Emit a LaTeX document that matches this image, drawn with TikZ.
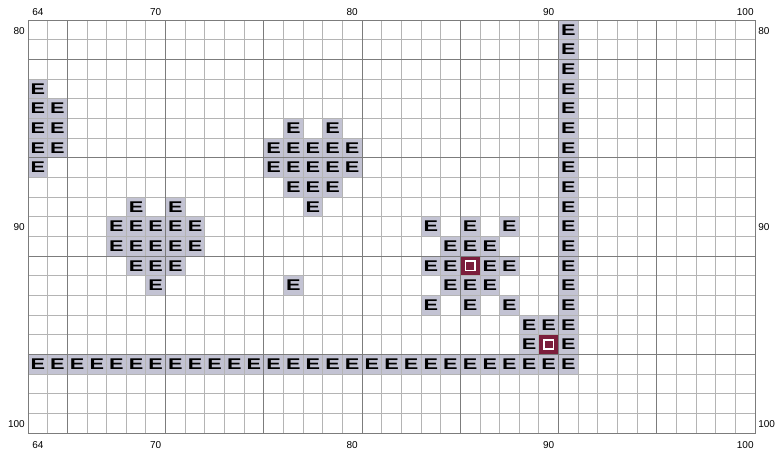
\documentclass[tikz,border=0pt]{standalone}
\usepackage{fontspec}
\setmainfont{Liberation Sans}
\usetikzlibrary{positioning}
\definecolor{gridlt}{HTML}{B4B4B4}
\definecolor{griddk}{HTML}{7C7C7C}
\definecolor{cellfill}{HTML}{C3C3D3}
\definecolor{hitred}{HTML}{7B1E3C}
\newcommand{\emark}{\scalebox{1.4}[1]{E}}
\tikzset{
  gridthin/.style={draw=gridlt, line width=0.9pt},
  gridthick/.style={draw=griddk, line width=0.9pt},
  ecell/.style={fill=cellfill, minimum size=19.6pt, inner sep=0pt, font=\fontsize{15.5}{15.5}\selectfont\bfseries},
  hitcell/.style={fill=hitred, minimum size=19.6pt, inner sep=0pt},
  hitmark/.style={draw=white, line width=1.7pt, minimum size=9.5pt, inner sep=0pt},
  axlbl/.style={font=\fontsize{10}{10}\selectfont, text=black, inner sep=0pt},
}

\begin{document}
\begin{tikzpicture}[x=19.65pt, y=-19.67pt]
  \useasboundingbox (-28pt,20pt) rectangle (750pt,-433pt);
  % occupied cells: column 91, row 97, then the clusters
  \foreach \r in {80,...,97}
    \node[ecell] (e-91-\r) at (91-64+0.5, \r-80+0.5) {\emark};
  \foreach \c in {64,...,90}
    \node[ecell] (e-\c-97) at (\c-64+0.5, 97-80+0.5) {\emark};
  \foreach \c/\r in {64/83,64/84,64/85,64/86,64/87,65/84,65/85,65/86,
      77/85,79/85,76/86,77/86,78/86,79/86,80/86,76/87,77/87,78/87,79/87,80/87,77/88,78/88,79/88,78/89,
      69/89,71/89,68/90,69/90,70/90,71/90,72/90,68/91,69/91,70/91,71/91,72/91,69/92,70/92,71/92,70/93,
      77/93,
      84/90,86/90,88/90,85/91,86/91,87/91,84/92,85/92,87/92,88/92,85/93,86/93,87/93,84/94,86/94,88/94,
      89/95,90/95,89/96}
    \node[ecell] (e-\c-\r) at (\c-64+0.5, \r-80+0.5) {\emark};
  % marked cells
  \foreach \c/\r in {86/92,90/96} {
    \node[hitcell] (h-\c-\r) at (\c-64+0.5, \r-80+0.5) {};
    \node[hitmark] (m-\c-\r) at (h-\c-\r) {};
  }
  % grid
  \foreach \i in {0,...,37}
    \draw[gridthin] (\i,0) -- (\i,21);
  \foreach \j in {0,...,21}
    \draw[gridthin] (0,\j) -- (37,\j);
  \foreach \i in {2,7,...,32}
    \draw[gridthick] (\i,0) -- (\i,21);
  \foreach \j in {2,7,12,17}
    \draw[gridthick] (0,\j) -- (37,\j);
  \draw[gridthick] (0,0) rectangle (37,21);
  % axis labels
  \foreach \c in {64,70,80,90,100} {
    \node[axlbl] (top-\c) at (\c-64+0.5, -0.42) {\c};
    \node[axlbl] (bot-\c) at (\c-64+0.5, 21.6) {\c};
  }
  \foreach \r in {80,90,100} {
    \node[axlbl, anchor=east] (lft-\r) at ([xshift=-3pt]0, \r-80+0.55) {\r};
    \node[axlbl, anchor=west] (rgt-\r) at ([xshift=3pt]37, \r-80+0.55) {\r};
  }
\end{tikzpicture}
\end{document}
